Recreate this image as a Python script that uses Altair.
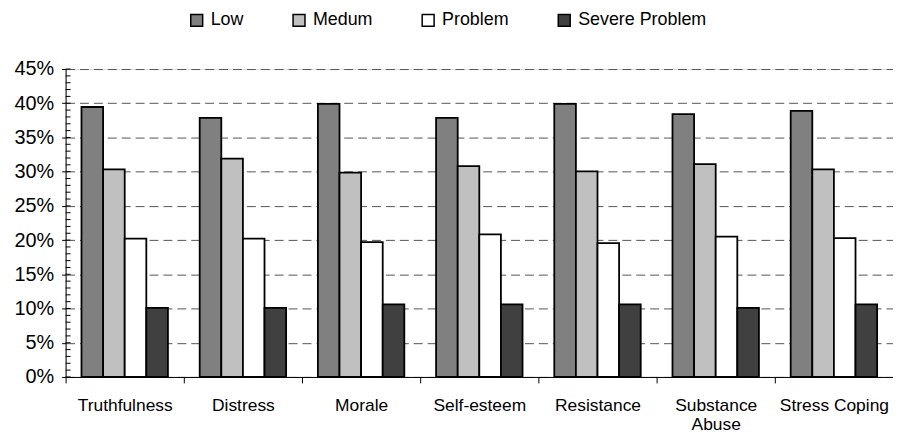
import altair as alt
import pandas as pd

categories = ["Truthfulness", "Distress", "Morale", "Self-esteem",
              "Resistance", "Substance Abuse", "Stress Coping"]
series = ["Low", "Medum", "Problem", "Severe Problem"]
low = [0.3945, 0.3785, 0.399, 0.3785, 0.399, 0.384, 0.389]
medium = [0.3035, 0.319, 0.2985, 0.308, 0.3005, 0.311, 0.3035]
problem = [0.202, 0.202, 0.197, 0.2085, 0.1955, 0.205, 0.203]
severe = [0.101, 0.101, 0.106, 0.106, 0.106, 0.101, 0.106]
colors = ["#808080", "#C0C0C0", "#FFFFFF", "#404040"]
y_ticks = [0, 0.05, 0.10, 0.15, 0.20, 0.25, 0.30, 0.35, 0.40, 0.45]
minor_ticks = [i / 100 for i in range(0, 46)]

rows = []
for s, vals in zip(series, [low, medium, problem, severe]):
    for c, v in zip(categories, vals):
        rows.append({"category": c, "series": s, "value": v})
df = pd.DataFrame(rows)

FONT = "Liberation Sans"

y_axis = alt.Axis(
    title=None, values=y_ticks, format=".0%", labelOverlap=False,
    grid=True, gridDash=[9, 5], gridColor="#555555", gridWidth=1,
    domainColor="black", domainWidth=1, tickColor="black", tickSize=4,
    labelFontSize=20, labelFont=FONT, labelColor="black", labelPadding=8,
)

bars = alt.Chart(df).mark_bar(stroke="black", strokeWidth=1.8).encode(
    x=alt.X(
        "category:N", sort=categories,
        scale=alt.Scale(paddingInner=0, paddingOuter=0),
        axis=alt.Axis(
            title=None, tickBand="extent", ticks=True, tickSize=6,
            tickColor="black", domainColor="black", domainWidth=1,
            labelAngle=0, labelFontSize=17.5, labelFont=FONT,
            labelColor="black", labelPadding=14, labelLineHeight=19,
            labelOverlap=False,
            labelExpr="datum.label == 'Substance Abuse' ? ['Substance', 'Abuse'] : datum.label",
        ),
    ),
    xOffset=alt.XOffset(
        "series:N", sort=series,
        scale=alt.Scale(paddingInner=0, paddingOuter=0.735),
    ),
    y=alt.Y(
        "value:Q",
        scale=alt.Scale(domain=[0, 0.45], nice=False),
        axis=y_axis,
    ),
    fill=alt.Fill(
        "series:N", sort=series,
        scale=alt.Scale(domain=series, range=colors),
        legend=alt.Legend(
            title=None, orient="none", legendX=123, legendY=-58,
            direction="horizontal", symbolType="square", symbolSize=144,
            symbolStrokeColor="black", symbolStrokeWidth=1.5,
            labelFontSize=18, labelFont=FONT, labelColor="black",
            labelOffset=5, columnPadding=46,
        ),
    ),
)

minor = alt.Chart(pd.DataFrame({"value": minor_ticks})).mark_rule(
    color="black", strokeWidth=1
).encode(
    y=alt.Y("value:Q", axis=y_axis, scale=alt.Scale(domain=[0, 0.45], nice=False)),
    x=alt.value(0),
    x2=alt.value(5),
)

chart = alt.layer(bars, minor).properties(
    width=833, height=310,
    autosize=alt.AutoSizeParams(type="none"),
    padding={"left": 58, "top": 60, "right": 0, "bottom": 58},
).configure_view(stroke=None).configure(font=FONT)

chart.save("out.html", embed_options={"renderer": "svg", "actions": False})
